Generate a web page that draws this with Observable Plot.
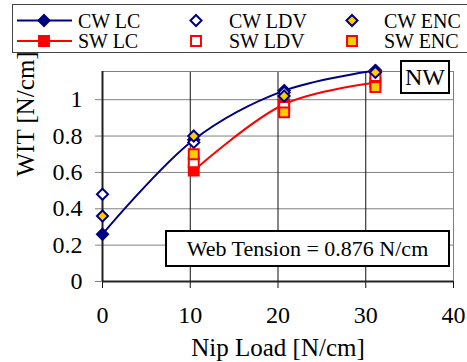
<!DOCTYPE html>
<html>
<head>
<meta charset="utf-8">
<script src="https://cdn.jsdelivr.net/npm/d3@7"></script>
<script src="https://cdn.jsdelivr.net/npm/@observablehq/plot@0.6"></script>
<style>
  html, body { margin: 0; padding: 0; background: white; }
  #wrap { position: relative; width: 467px; height: 362px; overflow: hidden; background: white; font-family: "Liberation Serif", serif; }
  #legend { position: absolute; left: 0; top: 0; }
  #chart { position: absolute; left: 0; top: 56px; }
  .note { position: absolute; background: white; border: 2px solid black; box-sizing: border-box; color: black; display: flex; align-items: center; justify-content: center; white-space: nowrap; font-family: "Liberation Serif", serif; }
</style>
</head>
<body>
<div id="wrap">
  <div id="legend"></div>
  <div id="chart"></div>
  <div class="note" style="left:400px; top:60px; width:50px; height:34px; font-size:24px;">NW</div>
  <div class="note" style="left:165px; top:230px; width:285px; height:37px; font-size:22px;">Web Tension = 0.876 N/cm</div>
</div>
<script>
// ---- data ----
const nipLoadCW = [0, 10.4, 20.7, 31.1];
const nipLoadSW = [10.4, 20.7, 31.1];

const cwLC  = [0.26, 0.78, 1.05, 1.16];
const cwLDV = [0.48, 0.765, 1.04, 1.16];
const cwENC = [0.36, 0.80, 1.02, 1.15];

const swLC  = [0.61, 0.975, 1.095];
const swLDV = [0.655, 0.96, 1.13];
const swENC = [0.70, 0.93, 1.07];

const xTicks = [0, 10, 20, 30, 40];
const yTicks = [0, 0.2, 0.4, 0.6, 0.8, 1];
const yMax = 1.155;

const NAVY = "#000080", RED = "#ff0000", GOLD = "#ffcc00";

const series = [
  {name: "CW LC",  xs: nipLoadCW, ys: cwLC,  symbol: "diamond2", fill: NAVY, stroke: NAVY, line: true},
  {name: "SW LC",  xs: nipLoadSW, ys: swLC,  symbol: "square",   fill: RED,  stroke: RED,  line: true},
  {name: "CW LDV", xs: nipLoadCW, ys: cwLDV, symbol: "diamond2", fill: "white", stroke: NAVY, line: false},
  {name: "SW LDV", xs: nipLoadSW, ys: swLDV, symbol: "square",   fill: "white", stroke: RED,  line: false},
  {name: "CW ENC", xs: nipLoadCW, ys: cwENC, symbol: "diamond2", fill: GOLD, stroke: NAVY, line: false},
  {name: "SW ENC", xs: nipLoadSW, ys: swENC, symbol: "square",   fill: GOLD, stroke: RED,  line: false}
];
const rows = series.map(s => s.xs.map((x, i) => ({x, y: s.ys[i]})));

// ---- chart ----
const marks = [
  Plot.gridY(yTicks.slice(1), {stroke: "#808080", strokeOpacity: 1}),
  Plot.gridX([10, 20, 30], {stroke: "#111", strokeOpacity: 1}),
  Plot.ruleY([yMax], {stroke: "#808080"}),
  Plot.ruleX([40], {stroke: "#808080"}),
  Plot.axisY(yTicks, {tickSize: 7, tickPadding: 13, stroke: "#808080", color: "black", tickFormat: d => String(d), fontSize: 24, label: null}),
  Plot.axisX(xTicks, {tickSize: 7, tickPadding: 17, stroke: "#111", color: "black", tickFormat: d => String(d), fontSize: 24, label: null}),
  Plot.ruleX([0], {stroke: "#222", strokeWidth: 2}),
  Plot.ruleY([0], {stroke: "#222", strokeWidth: 2}),
  Plot.text(["Nip Load [N/cm]"], {frameAnchor: "bottom", dy: 66, fontSize: 25, lineAnchor: "middle", fill: "black"}),
  Plot.text(["WIT [N/cm]"], {frameAnchor: "left", dx: -77, rotate: -90, fontSize: 25, lineAnchor: "middle", fill: "black"})
];
series.forEach((s, i) => {
  if (s.line) marks.push(Plot.line(rows[i], {x: "x", y: "y", stroke: s.stroke, strokeWidth: 2, curve: "catmull-rom"}));
  marks.push(Plot.dot(rows[i], {x: "x", y: "y", symbol: s.symbol, r: s.symbol === "square" ? 5.6 : 5, fill: s.fill, stroke: s.stroke, strokeWidth: 2}));
});

const chart = Plot.plot({
  width: 467,
  height: 306,
  marginTop: 15,
  marginBottom: 81,
  marginLeft: 102,
  marginRight: 14,
  style: {fontFamily: "'Liberation Serif', serif", background: "white", color: "black", overflow: "visible"},
  x: {domain: [0, 40]},
  y: {domain: [0, yMax]},
  marks
});
document.getElementById("chart").appendChild(chart);

// ---- legend ----
const lw = 467, lh = 56;
const leg = d3.select("#legend").append("svg").attr("width", lw).attr("height", lh)
  .style("font-family", "'Liberation Serif', serif");
leg.append("rect").attr("x", 12.5).attr("y", 4.5).attr("width", 470).attr("height", 48)
  .attr("fill", "white").attr("stroke", "#444");
const colMarker = [44, 196, 352], colText = [78, 229, 384], rowY = [20.5, 41];
const order = ["CW LC", "CW LDV", "CW ENC", "SW LC", "SW LDV", "SW ENC"];
order.forEach((name, k) => {
  const s = series.find(d => d.name === name);
  const c = k % 3, r = Math.floor(k / 3);
  const y = rowY[r], x = colMarker[c];
  if (s.line) leg.append("line").attr("x1", 17).attr("x2", 72).attr("y1", y).attr("y2", y)
    .attr("stroke", s.stroke).attr("stroke-width", 2);
  const sym = s.symbol === "square" ? d3.symbolSquare : d3.symbolDiamond2;
  const rr = s.symbol === "square" ? 5.6 : 5;
  leg.append("path").attr("d", d3.symbol(sym, rr * rr * Math.PI)())
    .attr("transform", `translate(${x},${y})`)
    .attr("fill", s.fill).attr("stroke", s.stroke).attr("stroke-width", 2);
  leg.append("text").attr("x", colText[c]).attr("y", y).attr("dy", "0.35em")
    .attr("font-size", 20).attr("fill", "black").text(name);
});
</script>
</body>
</html>
